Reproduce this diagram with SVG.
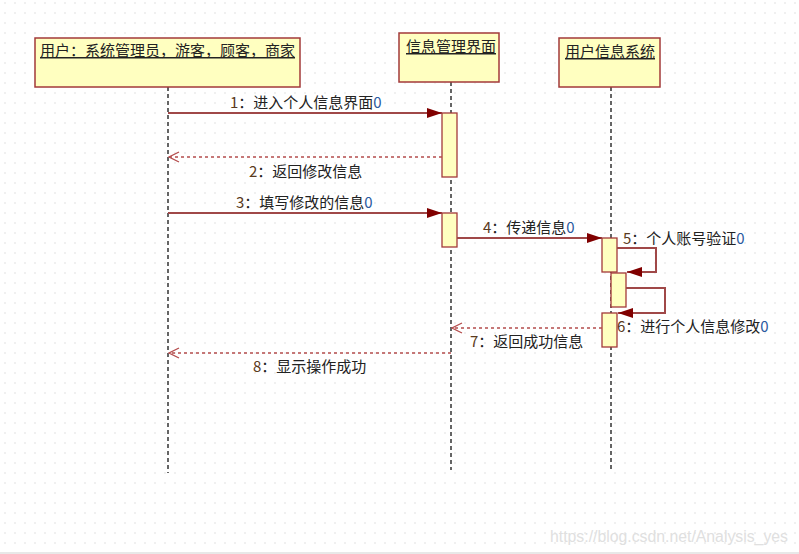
<svg xmlns="http://www.w3.org/2000/svg" width="799" height="554" viewBox="0 0 799 554">
<style>
.box{fill:#ffffc0;stroke:#a33a3a;stroke-width:1.5}
.act{fill:#ffffc0;stroke:#a33a3a;stroke-width:1.3}
.life{stroke:#333;stroke-width:1.5;stroke-dasharray:4,3;fill:none}
.msg{stroke:#a04848;stroke-width:2;fill:none}
.ret{stroke:#b44c4c;stroke-width:1.5;stroke-dasharray:3,3;fill:none}
.hdr{font-family:"Noto Sans CJK SC","Liberation Sans",sans-serif;font-size:15px;fill:#222;text-decoration:underline}
.lbl{font-family:"Noto Sans CJK SC","Liberation Sans",sans-serif;font-size:15px;fill:#222}
.num{fill:#5a3a20}
.zero{fill:#2a5aa0}
.wm{font-family:"Liberation Sans",sans-serif;font-size:16px;fill:#e0e0e0}
</style>
<defs>
<pattern id="grid" x="0" y="0" width="10" height="10" patternUnits="userSpaceOnUse">
<rect x="4.5" y="2.5" width="1" height="1" fill="#c4c4c4"/>
</pattern>
<marker id="fill" markerUnits="userSpaceOnUse" markerWidth="15" markerHeight="10" refX="15" refY="5" orient="auto">
<path d="M0,0 L15,5 L0,10 z" fill="#800000"/>
</marker>
<marker id="open" markerUnits="userSpaceOnUse" markerWidth="12" markerHeight="12" refX="11" refY="6" orient="auto">
<path d="M1,1 L11,6 L1,11" fill="none" stroke="#b44c4c" stroke-width="1.3"/>
</marker>
</defs>
<rect width="799" height="554" fill="#fff"/>
<rect width="799" height="554" fill="url(#grid)"/>
<line x1="0" y1="553" x2="799" y2="553" stroke="#e8e8e8" stroke-width="2"/>
<text class="wm" x="550" y="542" textLength="238" lengthAdjust="spacingAndGlyphs">https://blog.csdn.net/Analysis_yes</text>

<g id="node-user">
<line class="life" x1="168" y1="87" x2="168" y2="473"/>
<rect class="box" x="35" y="38" width="265" height="49"/>
<text class="hdr" x="40" y="56">用户：系统管理员，游客，顾客，商家</text>
</g>
<g id="node-ui">
<line class="life" x1="451" y1="82" x2="451" y2="470"/>
<rect class="box" x="399" y="33" width="100" height="49"/>
<text class="hdr" x="406" y="52">信息管理界面</text>
</g>
<g id="node-sys">
<line class="life" x1="611" y1="87" x2="611" y2="470"/>
<rect class="box" x="559" y="38" width="101" height="49"/>
<text class="hdr" x="565" y="57">用户信息系统</text>
</g>

<g id="activations">
<rect class="act" x="442" y="113" width="15" height="64"/>
<rect class="act" x="442" y="213" width="15" height="34"/>
<rect class="act" x="602" y="238" width="15" height="34"/>
<rect class="act" x="611" y="273" width="15" height="34"/>
<rect class="act" x="602" y="313" width="15" height="34"/>
</g>

<g id="connectors">
<line class="msg" x1="168" y1="113" x2="442" y2="113" marker-end="url(#fill)"/>
<line class="ret" x1="442" y1="157" x2="169" y2="157" marker-end="url(#open)"/>
<line class="msg" x1="168" y1="213" x2="442" y2="213" marker-end="url(#fill)"/>
<line class="msg" x1="457" y1="238" x2="602" y2="238" marker-end="url(#fill)"/>
<polyline class="msg" points="617,248 656,248 656,272 627,272" marker-end="url(#fill)"/>
<polyline class="msg" points="626,288 665,288 665,313 618,313" marker-end="url(#fill)"/>
<line class="ret" x1="602" y1="328" x2="452" y2="328" marker-end="url(#open)"/>
<line class="ret" x1="451" y1="353" x2="169" y2="353" marker-end="url(#open)"/>
</g>

<g id="labels">
<text class="lbl" x="230" y="108"><tspan class="num">1</tspan>：进入个人信息界面<tspan class="zero">0</tspan></text>
<text class="lbl" x="249" y="177"><tspan class="num">2</tspan>：返回修改信息</text>
<text class="lbl" x="236" y="208"><tspan class="num">3</tspan>：填写修改的信息<tspan class="zero">0</tspan></text>
<text class="lbl" x="483" y="233"><tspan class="num">4</tspan>：传递信息<tspan class="zero">0</tspan></text>
<text class="lbl" x="623" y="244"><tspan class="num">5</tspan>：个人账号验证<tspan class="zero">0</tspan></text>
<text class="lbl" x="617" y="332"><tspan class="num">6</tspan>：进行个人信息修改<tspan class="zero">0</tspan></text>
<text class="lbl" x="470" y="347"><tspan class="num">7</tspan>：返回成功信息</text>
<text class="lbl" x="253" y="372"><tspan class="num">8</tspan>：显示操作成功</text>
</g>
</svg>
